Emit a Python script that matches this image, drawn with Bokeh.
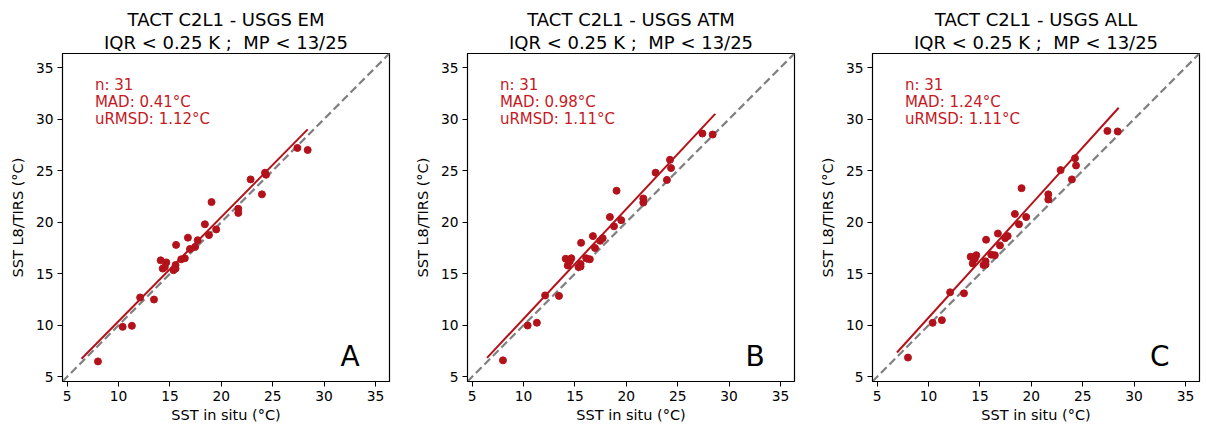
from bokeh.plotting import figure
from bokeh.layouts import row
from bokeh.models import Title, Label, Range1d, FixedTicker, ColumnDataSource
from bokeh.embed import file_html
from bokeh.resources import INLINE

# ---- data ----
insitu = [8.0, 10.4, 11.3, 12.1, 13.45,
          14.1, 14.65, 14.3, 14.5, 15.35, 15.55, 15.55, 15.6, 16.1, 16.45,
          16.75, 16.95, 17.45, 17.7,
          18.4, 18.8, 19.05, 19.5,
          21.65, 21.65, 22.85, 23.95, 24.25, 24.35,
          27.4, 28.4]
tirs_em = [6.5, 9.85, 9.95, 12.7, 12.5,
           16.3, 16.1, 15.5, 15.65, 15.35, 15.85, 15.5, 17.8, 16.4, 16.5,
           18.5, 17.4, 17.6, 18.25,
           19.8, 18.75, 21.95, 19.3,
           21.3, 20.9, 24.15, 22.7, 24.8, 24.6,
           27.2, 27.0]
tirs_atm = [6.6, 9.98, 10.25, 12.9, 12.85,
            16.45, 16.5, 15.8, 16.2, 15.65, 15.95, 15.7, 18.0, 16.5, 16.4,
            18.65, 17.5, 18.2, 18.45,
            20.5, 19.6, 23.05, 20.2,
            22.3, 21.9, 24.8, 24.1, 26.05, 25.25,
            28.6, 28.5]
tirs_all = [6.87, 10.24, 10.5, 13.2, 13.1,
            16.65, 16.8, 16.0, 16.45, 15.85, 16.2, 15.9, 18.3, 16.85, 16.8,
            18.9, 17.75, 18.45, 18.65,
            20.8, 19.8, 23.3, 20.5,
            22.7, 22.2, 25.05, 24.15, 26.2, 25.5,
            28.85, 28.8]

# regression line end points
fit_em_x = [6.4, 28.4]
fit_em_y = [6.75, 29.0]
fit_atm_x = [6.45, 28.65]
fit_atm_y = [6.84, 30.5]
fit_all_x = [6.93, 28.5]
fit_all_y = [7.36, 31.1]

axis_limits = [4.55, 36.36]
tick_values = [5, 10, 15, 20, 25, 30, 35]

titles = ["TACT C2L1 - USGS EM", "TACT C2L1 - USGS ATM", "TACT C2L1 - USGS ALL"]
subtitle = "IQR < 0.25 K ;\u00a0 MP < 13/25"
n_values = [31, 31, 31]
mad_values = [0.41, 0.98, 1.24]
urmsd_values = [1.12, 1.11, 1.11]
letters = ["A", "B", "C"]

FONT = "DejaVu Sans"
RED_PT = "#b3121a"
RED_TXT = "#c41a1f"


def make_panel(i, yvals, fx, fy, width, border_right):
    p = figure(width=width, height=428, output_backend="svg", toolbar_location=None,
               x_range=Range1d(*axis_limits), y_range=Range1d(*axis_limits),
               min_border_left=62, min_border_right=border_right,
               min_border_top=53, min_border_bottom=47)
    p.title.text = ""
    p.add_layout(Title(text=subtitle, align="center", text_font=FONT,
                       text_font_size="18px", text_font_style="normal",
                       text_color="black", standoff=1), "above")
    p.add_layout(Title(text=titles[i], align="center", text_font=FONT,
                       text_font_size="18px", text_font_style="normal",
                       text_color="black", standoff=0), "above")
    p.grid.visible = False
    p.outline_line_color = "black"
    p.outline_line_width = 1.2
    p.background_fill_color = "white"
    p.border_fill_color = "white"
    for ax in (p.xaxis[0], p.yaxis[0]):
        ax.ticker = FixedTicker(ticks=tick_values)
        ax.minor_tick_line_color = None
        ax.major_tick_in = 0
        ax.major_tick_out = 5
        ax.major_tick_line_color = "black"
        ax.axis_line_color = "black"
        ax.major_label_text_font = FONT
        ax.major_label_text_font_size = "13.8px"
        ax.major_label_text_color = "black"
        ax.major_label_standoff = 4
        ax.axis_label_text_font = FONT
        ax.axis_label_text_font_size = "14.5px"
        ax.axis_label_text_font_style = "normal"
        ax.axis_label_text_color = "black"
    p.xaxis[0].axis_label_standoff = 3
    p.yaxis[0].axis_label_standoff = 7
    p.xaxis.axis_label = "SST in situ (°C)"
    p.yaxis.axis_label = "SST L8/TIRS (°C)"

    # 1:1 line
    p.line(axis_limits, axis_limits, line_color="#808080", line_width=2.2,
           line_dash="8 4")
    # fit line
    p.line(fx, fy, line_color=RED_PT, line_width=2)
    # points
    src = ColumnDataSource(dict(x=insitu, y=yvals))
    p.scatter("x", "y", source=src, size=7, fill_color=RED_PT,
              line_color=RED_PT)

    stats = ["n: %d" % n_values[i],
             "MAD: %.2f°C" % mad_values[i],
             "uRMSD: %.2f°C" % urmsd_values[i]]
    for k, s in enumerate(stats):
        p.add_layout(Label(x=7.7, y=33.26 - k * 1.62, text=s, text_font=FONT,
                           text_font_size="15px", text_color=RED_TXT,
                           text_align="left", text_baseline="alphabetic"))
    p.add_layout(Label(x=33.45, y=6.96, text=letters[i], text_font=FONT,
                       text_font_size="28px", text_color="black",
                       text_align="right", text_baseline="alphabetic"))
    return p


pa = make_panel(0, tirs_em, fit_em_x, fit_em_y, 405, 16)
pb = make_panel(1, tirs_atm, fit_atm_x, fit_atm_y, 405, 16)
pc = make_panel(2, tirs_all, fit_all_x, fit_all_y, 396, 7)

layout = row(pa, pb, pc, spacing=0)
open("out.html", "w").write(file_html(layout, INLINE))
